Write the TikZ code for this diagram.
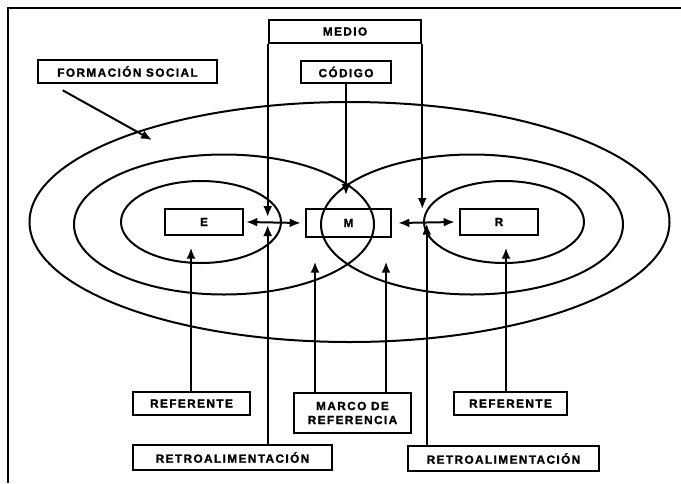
\documentclass[tikz,border=0pt]{standalone}
\usepackage{fontspec}
\newfontfamily\cajafont[LetterSpace=12,BoldFeatures={FakeBold=1.4}]{Liberation Sans}
\usepackage{tikz}
\usetikzlibrary{arrows.meta}
\tikzset{caja/.style={draw,line width=2.6pt,font=\cajafont\bfseries\fontsize{11.8}{14}\selectfont,inner sep=0pt,align=center},
	linea/.style={line width=2pt},
	flecha/.style={-{Latex[length=11pt,width=9pt]},line width=2pt},
	doble/.style={{Latex[length=11pt,width=9pt]}-{Latex[length=11pt,width=9pt]},line width=2pt}}

\begin{document}
\begin{tikzpicture}[x=1pt,y=-1pt]
	\useasboundingbox (0,0) rectangle (681,483);
	\draw[line width=2.4pt] (681,8) -- (8,8) -- (8,483);
	% elipses
	\foreach \cx/\cy/\rx/\ry in {349.5/222/320/120,224/224.5/150/70,472/224.5/151/70,201/222/80/41,504/222/80/41}
		\draw[linea] (\cx,\cy) ellipse [x radius=\rx,y radius=\ry];
	% cajas
	\node[caja,minimum width=152,minimum height=23] (medio) at (345,31.5) {MEDIO};
	\node[caja,minimum width=90,minimum height=22] (codigo) at (346,72) {CÓDIGO};
	\node[caja,minimum width=179,minimum height=23] (formacion) at (127.5,71.5) {FORMACIÓN SOCIAL};
	\node[caja,minimum width=78,minimum height=26] (E) at (204,222) {E};
	\node[caja,minimum width=85,minimum height=28] (M) at (348.5,223) {M};
	\node[caja,minimum width=78,minimum height=26] (R) at (499,222) {R};
	\node[caja,minimum width=117,minimum height=23] (ref1) at (191.5,403.5) {REFERENTE};
	\node[caja,minimum width=117,minimum height=40] (marco) at (352.5,413) {MARCO DE\\REFERENCIA};
	\node[caja,minimum width=113,minimum height=23] (ref2) at (510.5,403.5) {REFERENTE};
	\node[caja,minimum width=199,minimum height=25] (retro1) at (232.5,457.5) {RETROALIMENTACIÓN};
	\node[caja,minimum width=191,minimum height=25] (retro2) at (503.5,458.5) {RETROALIMENTACIÓN};
	% puntas libres
	\coordinate (fs) at (152,140);
	\coordinate (cruce) at (346,195);
	% flechas
	\draw[flecha] ([shift={(26,6)}]formacion.south west) -- (fs);
	\draw[flecha] (codigo.south) -- (cruce);
	\draw[flecha] (medio.south west) -- (medio.south west |- 0,217);
	\draw[flecha] (medio.south east) -- (medio.south east |- 0,209);
	\draw[flecha] (retro1.north -| medio.south west) -- (medio.south west |- 0,225);
	\draw[flecha] ([xshift=20pt]retro2.north west) -- ++(0,-221);
	\draw[doble] ([xshift=2pt]E.east) -- ([xshift=-4pt]M.west);
	\draw[doble] ([xshift=6pt]M.east) -- ([xshift=-4pt]R.west);
	\draw[flecha] ([xshift=-0.5pt]ref1.north) -- ++(0,-143);
	\draw[flecha] ([xshift=-4.5pt]ref2.north) -- ++(0,-143);
	\draw[flecha] ([xshift=-37.5pt]marco.north) -- ++(0,-130);
	\draw[flecha] ([xshift=33.5pt]marco.north) -- ++(0,-130);
\end{tikzpicture}
\end{document}
